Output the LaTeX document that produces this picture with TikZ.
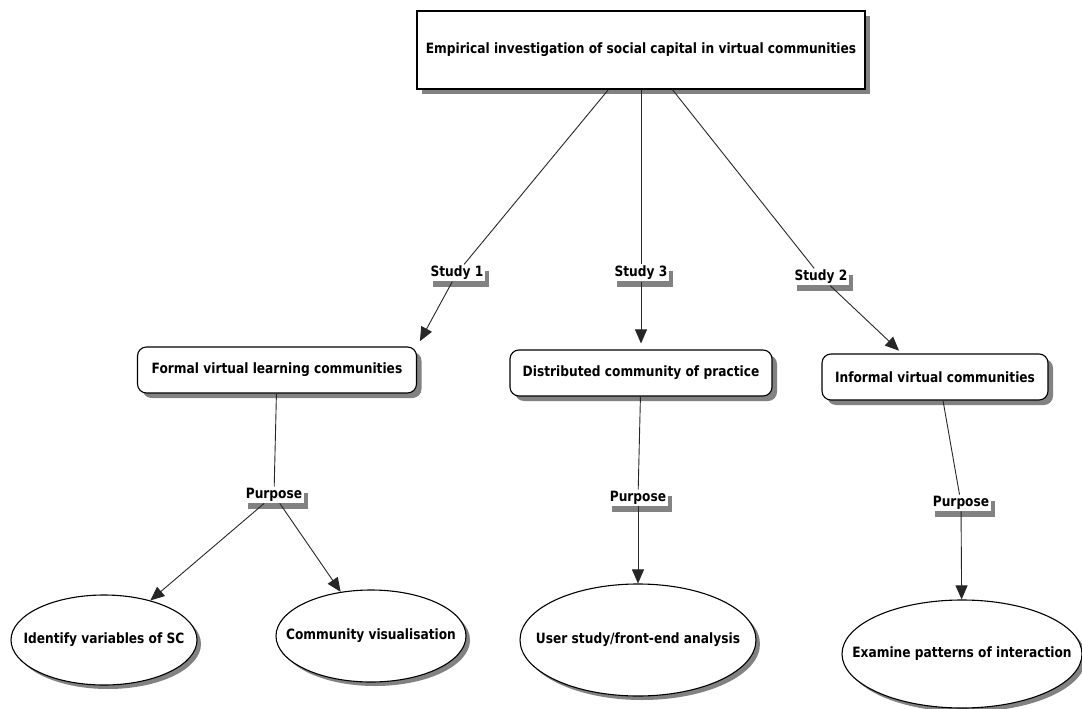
\documentclass[tikz,border=0pt]{standalone}
\usepackage{fontspec}
\newfontfamily\mapfont{DejaVu Sans}[FakeStretch=0.86]
\usetikzlibrary{arrows.meta,shapes.geometric,shadows}
\definecolor{shadegray}{RGB}{130,130,130}
\newcommand{\ovaltxt}[1]{\makebox[0pt]{#1}}
\tikzset{
  base/.style    = {font=\mapfont\bfseries\fontsize{14.2}{16}\selectfont, align=center},
  topbox/.style  = {base, draw, fill=white, line width=1.1pt, minimum width=448pt, minimum height=78pt,
                    drop shadow={shadow xshift=5pt, shadow yshift=-5pt, fill=shadegray, opacity=1}},
  box/.style     = {base, draw, fill=white, rounded corners=9pt, line width=1.1pt, minimum height=46pt,
                    drop shadow={shadow xshift=5pt, shadow yshift=-5pt, fill=shadegray, opacity=1}},
  oval/.style    = {base, ellipse, draw, fill=white, line width=1.1pt, inner sep=0pt,
                    drop shadow={shadow xshift=4pt, shadow yshift=-4pt, fill=shadegray, opacity=1}},
  lbl/.style     = {base, fill=white, inner sep=1.5pt,
                    drop shadow={shadow xshift=4pt, shadow yshift=-6pt, fill=shadegray, opacity=1}},
  link/.style    = {line width=0.9pt, draw=black!85},
  flow/.style    = {link, -{Triangle[length=14pt,width=12pt]}},
}
\begin{document}
\begin{tikzpicture}[x=1pt, y=-1pt]
  \useasboundingbox (0,0) rectangle (1082,709);
  % main question
  \node[topbox] (top) at (641,50) {Empirical investigation of social capital in virtual communities};
  % studies
  \node[lbl] (s1) at (457,273) {Study 1};
  \node[lbl] (s3) at (641,273) {Study 3};
  \node[lbl] (s2) at (821,277) {Study 2};
  \node[box, minimum width=279pt] (formal) at (277,370) {Formal virtual learning communities};
  \node[box, minimum width=262pt] (distributed) at (641,373) {Distributed community of practice};
  \node[box, minimum width=226pt] (informal) at (935,377) {Informal virtual communities};
  % purposes
  \node[lbl] (pl) at (274,495) {Purpose};
  \node[lbl] (pm) at (638,498) {Purpose};
  \node[lbl] (pr) at (961,503) {Purpose};
  \node[oval, minimum width=186pt, minimum height=90pt] (identify) at (104,640) {\ovaltxt{Identify variables of SC}};
  \node[oval, minimum width=190pt, minimum height=92pt] (community) at (371,636) {\ovaltxt{Community visualisation}};
  \node[oval, minimum width=236pt, minimum height=112pt] (userstudy) at (638,640) {\ovaltxt{User study/front-end analysis}};
  \node[oval, minimum width=240pt, minimum height=108pt] (examine) at (962,654) {\ovaltxt{Examine patterns of interaction}};
  % connectors
  \draw[link] (top) -- (s1);
  \draw[link] (top) -- (s3);
  \draw[link] (top) -- (s2);
  \draw[flow, shorten >=6pt] (s1) -- (formal.north east);
  \draw[flow, shorten >=6pt] (s3) -- (distributed);
  \draw[flow, shorten >=4pt] (s2) -- ([xshift=-33pt]informal.north);
  \draw[link] (formal) -- (pl);
  \draw[link] (distributed) -- (pm);
  \draw[link] ([xshift=8pt]informal.south) -- (pr);
  \draw[flow] (pl) -- (identify);
  \draw[flow] (pl) -- (community);
  \draw[flow] (pm) -- (userstudy);
  \draw[flow] (pr) -- (examine);
\end{tikzpicture}
\end{document}
